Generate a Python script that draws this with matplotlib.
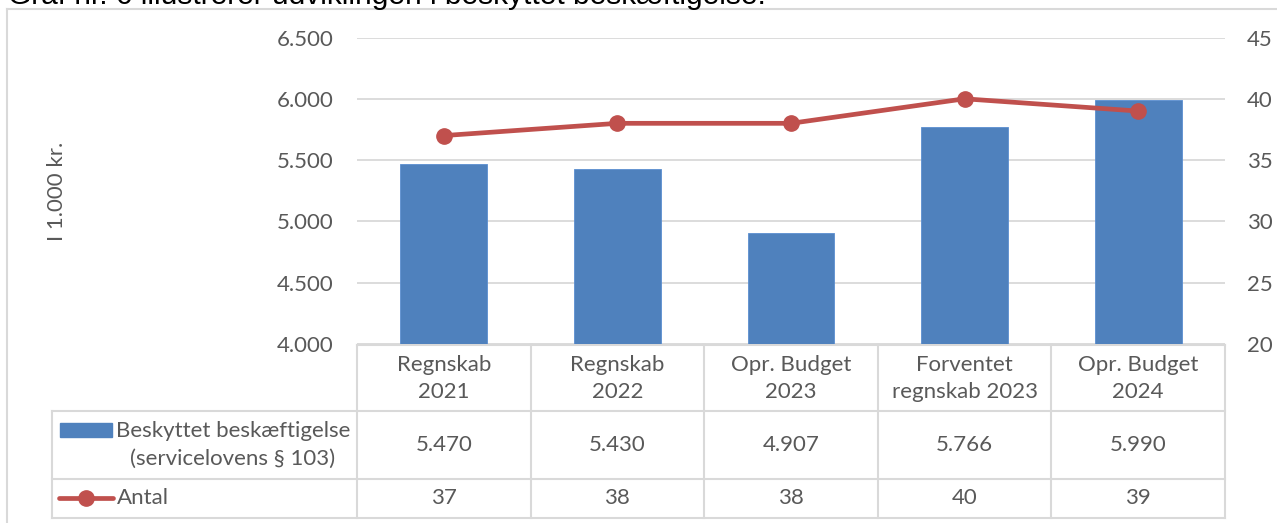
import matplotlib
matplotlib.use("Agg")
import matplotlib.pyplot as plt
from matplotlib.lines import Line2D
from matplotlib.patches import Rectangle
import matplotlib.transforms as mtransforms

categories = ["Regnskab\n2021", "Regnskab\n2022", "Opr. Budget\n2023",
              "Forventet\nregnskab 2023", "Opr. Budget\n2024"]
bar_values = [5470, 5430, 4907, 5766, 5990]
bar_labels = ["5.470", "5.430", "4.907", "5.766", "5.990"]
line_values = [37, 38, 38, 40, 39]
left_ticks = [4000, 4500, 5000, 5500, 6000, 6500]
left_ticklabels = ["4.000", "4.500", "5.000", "5.500", "6.000", "6.500"]
right_ticks = [20, 25, 30, 35, 40, 45]
bar_name = "Beskyttet beskæftigelse\n(servicelovens § 103)"
line_name = "Antal"
ylabel = "I 1.000 kr."
title = "Graf nr. 6 illustrerer udviklingen i beskyttet beskæftigelse."

W, H = 1277, 523
BLUE = "#4F81BD"
RED = "#C0504D"
GRID = "#D9D9D9"
TXT = "#595959"
FONT = "Lato"
FS = 16

fig = plt.figure(figsize=(W / 100, H / 100), dpi=100)

def fx(x):
    return x / W

def fy(y):
    return 1 - y / H

# outer chart border (top and left visible)
fig.add_artist(Line2D([fx(7), fx(1290)], [fy(9), fy(9)], color=GRID, lw=1.5))
fig.add_artist(Line2D([fx(7), fx(7)], [fy(9), fy(540)], color=GRID, lw=1.5))

# heading text, cut off at the top edge as in the source
fig.text(fx(8), fy(3.5), title, family="Liberation Sans", fontsize=21.5,
         color="black", ha="left", va="baseline")

L, R, T, B = 357, 1225, 37.5, 344
ax = fig.add_axes([fx(L), fy(B), fx(R) - fx(L), (B - T) / H])
ax2 = ax.twinx()

x = list(range(len(categories)))
ax.bar(x, bar_values, width=0.5, color=BLUE, edgecolor="#5B8ED0", lw=0.6, zorder=3)
ax.set_xlim(-0.5, len(categories) - 0.5)
ax.set_ylim(4000, 6500)
ax.set_yticks(left_ticks)
ax.set_yticklabels(left_ticklabels)
ax.set_xticks([])
ax.yaxis.grid(True, color=GRID, lw=1.3, zorder=0)
ax.set_axisbelow(True)

ax2.plot(x, line_values, color=RED, lw=3.4, marker="o", markersize=11,
         zorder=4, solid_capstyle="round")
ax2.set_ylim(20, 45)
ax2.set_yticks(right_ticks)

for a in (ax, ax2):
    for s in a.spines.values():
        s.set_visible(False)
    a.tick_params(length=0, labelsize=FS, labelcolor=TXT)
    for lab in a.get_yticklabels():
        lab.set_family(FONT)
ax.tick_params(axis="y", pad=17)
ax2.tick_params(axis="y", pad=16)

fig.text(fx(57), fy(191), ylabel, rotation=90, ha="center", va="center",
         family=FONT, fontsize=FS, color=TXT)

# data table below the plot
trans = mtransforms.blended_transform_factory(ax.transData, fig.transFigure)
y_top, y_h1, y_h2, y_bot = 344.5, 411, 479, 518
n = len(categories)
ax.add_line(Line2D([-0.5, n - 0.5], [fy(y_top)] * 2, transform=trans, color=GRID,
                   lw=1.5, clip_on=False))
for yy in (y_h1, y_h2, y_bot):
    fig.add_artist(Line2D([fx(52), fx(R)], [fy(yy)] * 2, color=GRID, lw=1.5))
for i in range(n + 1):
    ax.add_line(Line2D([i - 0.5, i - 0.5], [fy(y_top), fy(y_bot)], transform=trans,
                       color=GRID, lw=1.5, clip_on=False))
fig.add_artist(Line2D([fx(52), fx(52)], [fy(y_h1), fy(y_bot)], color=GRID, lw=1.5))

for i in range(n):
    ax.text(i, fy(378.5), categories[i], transform=trans, ha="center",
            va="center", family=FONT, fontsize=FS, color=TXT, linespacing=1.45)
    ax.text(i, fy(445), bar_labels[i], transform=trans, ha="center",
            va="center", family=FONT, fontsize=FS, color=TXT)
    ax.text(i, fy(498), str(line_values[i]), transform=trans, ha="center",
            va="center", family=FONT, fontsize=FS, color=TXT)

# legend keys in the table
fig.add_artist(Rectangle((fx(60), fy(437)), fx(112) - fx(60), (437 - 423) / H,
                         color=BLUE, transform=fig.transFigure))
fig.text(fx(233), fy(445), bar_name, ha="center", va="center", family=FONT,
         fontsize=FS, color=TXT, linespacing=1.5, multialignment="center")
fig.add_artist(Line2D([fx(59), fx(113)], [fy(498)] * 2, color=RED, lw=3.4,
                      solid_capstyle="round"))
fig.add_artist(Line2D([fx(86)], [fy(498)], color=RED, marker="o", markersize=11))
fig.text(fx(117), fy(498), line_name, ha="left", va="center", family=FONT,
         fontsize=FS, color=TXT)

fig.savefig("out.png", dpi=100)
